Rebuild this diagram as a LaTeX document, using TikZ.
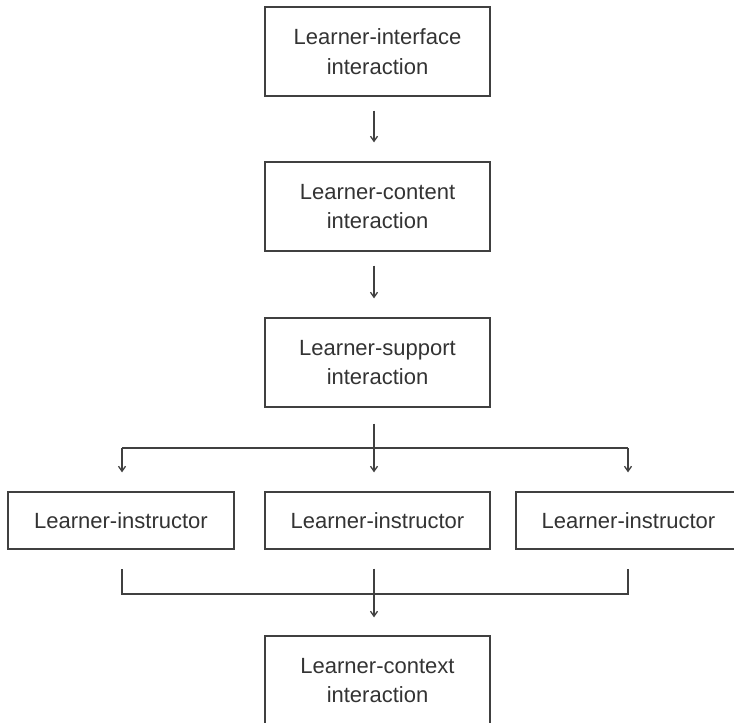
\documentclass[tikz,border=0pt]{standalone}
\usepackage{fontspec}
\setmainfont{Liberation Sans}
\usetikzlibrary{arrows.meta}
\begin{document}
\begin{tikzpicture}[x=1pt,y=-1pt,
  box/.style={draw=black!75, line width=1.3pt, minimum width=225pt, minimum height=89pt,
    inner sep=0pt, align=center, text=black!80, font=\fontsize{22}{29.5}\selectfont},
  smallbox/.style={box, minimum height=57pt},
  conn/.style={draw=black!75, line width=1.3pt},
  arr/.style={conn, -{Straight Barb[length=5pt,width=7pt]}}]
\useasboundingbox (0,0) rectangle (734,723);
\clip (0,0) rectangle (734,723);
\node[box] (b1) at (377.5,51.5) {Learner-interface\\interaction};
\node[box] (b2) at (377.5,206.5) {Learner-content\\interaction};
\node[box] (b3) at (377.5,362.5) {Learner-support\\interaction};
\node[smallbox, minimum width=226pt] (c1) at (121,520.5) {Learner-instructor};
\node[smallbox] (c2) at (377.5,520.5) {Learner-instructor};
\node[smallbox] (c3) at (628.5,520.5) {Learner-instructor};
\node[box] (b4) at (377.5,680.5) {Learner-context\\interaction};
% vertical arrows
\draw[arr, shorten <=14pt, shorten >=19pt] ([xshift=-3.5pt]b1.south) -- ([xshift=-3.5pt]b2.north);
\draw[arr, shorten <=14pt, shorten >=19pt] ([xshift=-3.5pt]b2.south) -- ([xshift=-3.5pt]b3.north);
\draw[arr, shorten <=16pt, shorten >=19pt] ([xshift=-3.5pt]b3.south) -- ([xshift=-3.5pt]c2.north);
% branch
\coordinate (hl) at (122,448);
\coordinate (hr) at (628,448);
\draw[conn] (hl) -- (hr);
\draw[arr, shorten >=19pt] (hl) -- (hl |- c1.north);
\draw[arr, shorten >=19pt] (hr) -- (hr |- c3.north);
% merge
\coordinate (bl) at (122,569);
\coordinate (br) at (628,569);
\draw[conn] (bl) -- ++(0,25) -| (br);
\draw[arr, shorten <=19pt, shorten >=18pt] ([xshift=-3.5pt]c2.south) -- ([xshift=-3.5pt]b4.north);
\end{tikzpicture}
\end{document}
